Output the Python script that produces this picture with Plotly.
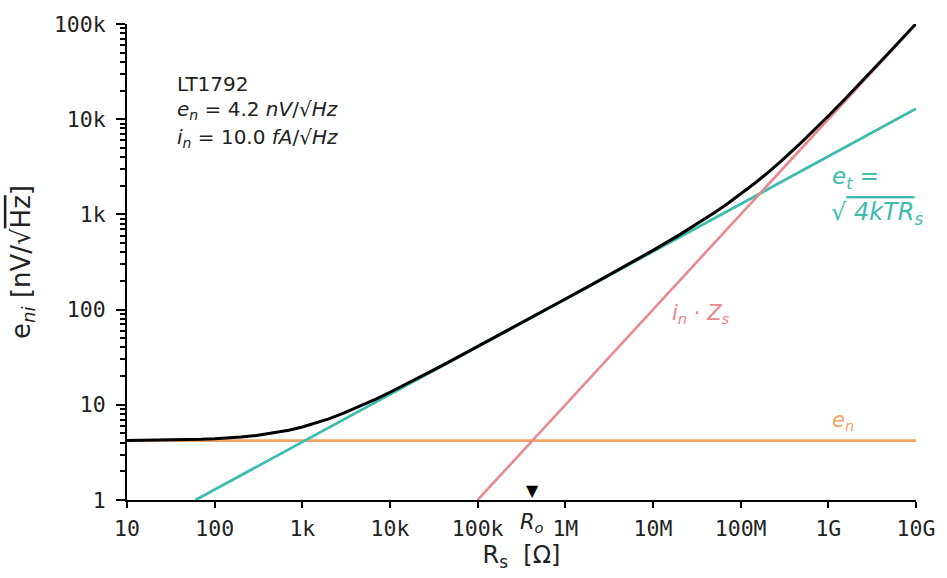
import math
import plotly.graph_objects as go

# ---- data ----
R_TOTAL = [10, 20, 30, 50, 70, 100, 150, 200, 300, 500, 700, 1e3, 1.5e3, 2e3, 3e3, 5e3, 7e3,
           1e4, 1.5e4, 2e4, 3e4, 5e4, 7e4, 1e5, 2e5, 3e5, 5e5,
           1e6, 2e6, 3e6, 5e6, 1e7, 2e7, 3e7, 5e7, 7e7, 1e8, 1.5e8, 2e8, 3e8, 5e8, 7e8,
           1e9, 1.5e9, 2e9, 3e9, 5e9, 1e10]
E_TOTAL = [4.220, 4.239, 4.259, 4.297, 4.336, 4.393, 4.486, 4.577, 4.755, 5.091, 5.407,
           5.848, 6.518, 7.125, 8.205, 10.02, 11.557,
           13.54, 16.311, 18.68, 22.683, 29.08, 34.312, 40.92, 57.74, 70.673, 91.23,
           129.1, 183.1, 224.94, 292.1, 419.1, 609.3, 766.04, 1038.3, 1284.2, 1629.7, 2175.8,
           2704.1, 3737.4, 5768.9, 7784.1,
           10796, 15806, 20812, 30817, 50821, 100825]
R_EN = [10, 1e10]
E_EN = [4.2, 4.2]
R_ET = [60.4, 1e10]
E_ET = [1.0, 12870]
R_IN = [1e5, 1e10]
E_IN = [1.0, 1e5]
R_O = 420e3

X_TICKS = [10, 100, 1e3, 1e4, 1e5, 1e6, 1e7, 1e8, 1e9, 1e10]
X_LABELS = ["10", "100", "1k", "10k", "100k", "1M", "10M", "100M", "1G", "10G"]
Y_TICKS = [1, 10, 100, 1e3, 1e4, 1e5]
Y_LABELS = ["1", "10", "100", "1k", "10k", "100k"]

C_BLACK = "#000000"
C_TEAL = "#3dbcae"
C_PINK = "#e8898b"
C_ORANGE = "#f0a466"

fig = go.Figure()
fig.add_trace(go.Scatter(x=R_EN, y=E_EN, mode="lines", line=dict(color=C_ORANGE, width=2.6)))
fig.add_trace(go.Scatter(x=R_ET, y=E_ET, mode="lines", line=dict(color=C_TEAL, width=2.8)))
fig.add_trace(go.Scatter(x=R_IN, y=E_IN, mode="lines", line=dict(color=C_PINK, width=2.6)))
fig.add_trace(go.Scatter(x=R_TOTAL, y=E_TOTAL, mode="lines", line=dict(color=C_BLACK, width=3)))

tickfont = dict(family="DejaVu Sans Mono", size=21.5, color="#222")
fig.update_xaxes(type="log", range=[1, 10], tickvals=X_TICKS, ticktext=X_LABELS,
                 showgrid=False, zeroline=False, showline=True, linecolor="black", linewidth=2,
                 ticks="outside", ticklen=6, tickwidth=2, tickcolor="black", tickfont=tickfont,
                 ticklabelstandoff=2,
                 title=dict(text="R<sub>s</sub>  [Ω]", font=dict(family="DejaVu Sans", size=24, color="#222"),
                            standoff=6))
fig.update_yaxes(type="log", range=[0, 5], tickvals=Y_TICKS, ticktext=Y_LABELS,
                 showgrid=False, zeroline=False, showline=True, linecolor="black", linewidth=2,
                 ticks="outside", ticklen=9, tickwidth=2, tickcolor="black", tickfont=tickfont,
                 ticklabelstandoff=6,
                 minor=dict(ticks="outside", ticklen=5, tickwidth=1.5, tickcolor="black", dtick="D1", showgrid=False),
                 title=dict(text="e<sub><i>ni</i></sub> [nV/√<span style='text-decoration:overline'>Hz</span>]",
                            font=dict(family="DejaVu Sans", size=26, color="#222"), standoff=16))

ann_font = dict(family="DejaVu Sans", size=20, color="#222")

def paper_x(px):
    return (px - 127) / 796

def paper_y(py):
    return (500 - py) / 480

anns = [
    dict(text="LT1792", x=paper_x(175), y=paper_y(80), font=ann_font),
    dict(text="<i>e</i><sub><i>n</i></sub> = 4.2 <i>nV</i>/√<i>Hz</i>", x=paper_x(175), y=paper_y(107), font=ann_font),
    dict(text="<i>i</i><sub><i>n</i></sub> = 10.0 <i>fA</i>/√<i>Hz</i>", x=paper_x(175), y=paper_y(135), font=ann_font),
    dict(text="<i>e</i><sub><i>t</i></sub> =", x=paper_x(836), y=paper_y(175), font=dict(ann_font, size=23, color=C_TEAL)),
    dict(text="√<span style='text-decoration:overline'> <i>4kTR</i></span><sub><i>s</i></sub>", x=paper_x(835), y=paper_y(211),
         font=dict(ann_font, size=24, color=C_TEAL)),
    dict(text="<i>i</i><sub><i>n</i></sub> · <i>Z</i><sub><i>s</i></sub>", x=paper_x(675), y=paper_y(312),
         font=dict(ann_font, size=21, color=C_PINK)),
    dict(text="<i>e</i><sub><i>n</i></sub>", x=paper_x(836), y=paper_y(420), font=dict(ann_font, size=21, color=C_ORANGE)),
]
for a in anns:
    fig.add_annotation(xref="paper", yref="paper", xanchor="left", yanchor="middle",
                       showarrow=False, align="left", **a)

fig.add_annotation(x=math.log10(R_O), y=0, xref="x", yref="y", text="▼", showarrow=False,
                   yanchor="bottom", xanchor="center", yshift=-2, font=dict(family="DejaVu Sans", size=16, color="black"))
fig.add_annotation(x=math.log10(R_O), y=0, xref="x", yref="y", text="<i>R</i><sub><i>o</i></sub>", showarrow=False,
                   yanchor="top", xanchor="center", yshift=-8, font=dict(family="DejaVu Sans", size=21, color="#222"))

fig.update_layout(width=947, height=578, margin=dict(l=127, r=24, t=20, b=78),
                  paper_bgcolor="white", plot_bgcolor="white", showlegend=False)

fig.write_html("out.html")
